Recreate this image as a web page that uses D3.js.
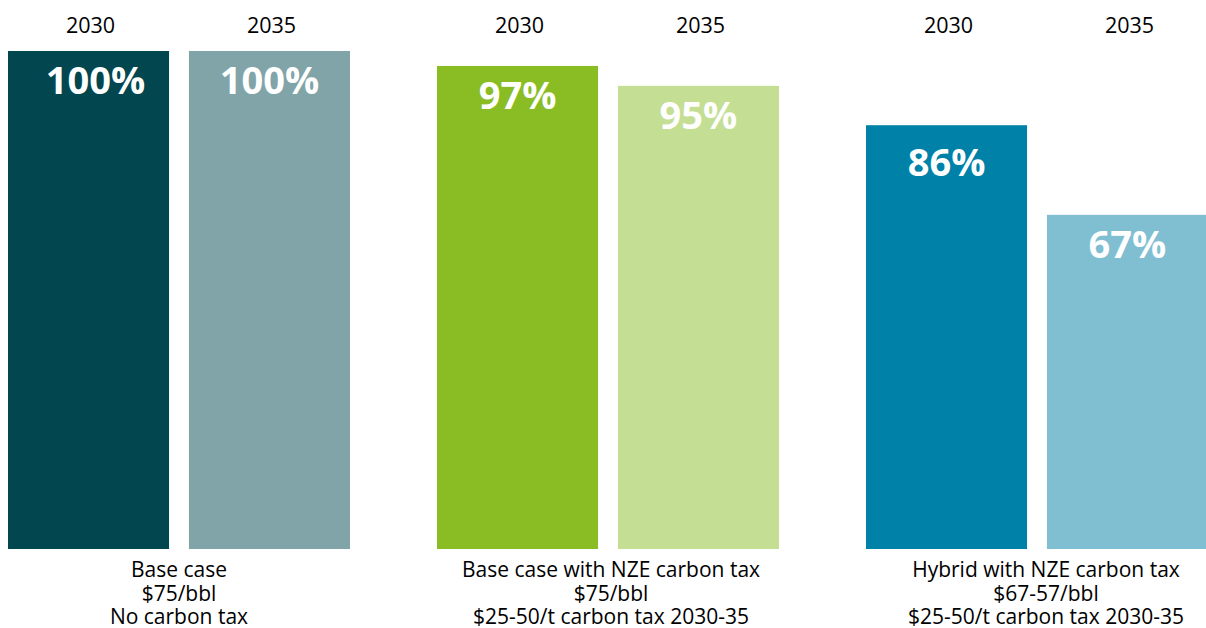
<!DOCTYPE html>
<html>
<head>
<meta charset="utf-8">
<script src="https://cdn.jsdelivr.net/npm/d3@7"></script>
<style>
  body { margin: 0; background: #fff; }
  svg { display: block; font-family: "Open Sans", sans-serif; }
</style>
</head>
<body>
<svg id="chart" width="1206" height="628"></svg>
<script>
// scenarios, each with a 2030 and a 2035 bar
const scenarios = ["base", "baseNze", "hybrid"];
const scenarioLabels = [
  ["Base case", "$75/bbl", "No carbon tax"],
  ["Base case with NZE carbon tax", "$75/bbl", "$25-50/t carbon tax 2030-35"],
  ["Hybrid with NZE carbon tax", "$67-57/bbl", "$25-50/t carbon tax 2030-35"]
];
const years = ["2030", "2035"];
// bar heights (share of base)
const values2030 = [100, 97, 85.1];
const values2035 = [100, 93, 67.1];
// printed labels
const labels2030 = ["100%", "97%", "86%"];
const labels2035 = ["100%", "95%", "67%"];
const colours2030 = ["#02464f", "#8abd24", "#0081a8"];
const colours2035 = ["#80a4a8", "#c4de94", "#80bed2"];

const svg = d3.select("#chart");

const bars = scenarios.flatMap((s, i) => [
  { scenario: s, idx: i, year: years[0], value: values2030[i], label: labels2030[i], colour: colours2030[i] },
  { scenario: s, idx: i, year: years[1], value: values2035[i], label: labels2035[i], colour: colours2035[i] }
]);

const x0 = d3.scaleBand()
  .domain(scenarios)
  .range([8, 1208])
  .paddingInner(87 / 429)
  .paddingOuter(0);

const x1 = d3.scaleBand()
  .domain(years)
  .range([0, x0.bandwidth()])
  .paddingInner(0.11);

const y = d3.scaleLinear()
  .domain([0, 100])
  .range([549, 51]);

const groups = svg.selectAll("g.group")
  .data(scenarios)
  .join("g")
  .attr("class", "group")
  .attr("transform", d => `translate(${x0(d)},0)`);

const bar = groups.selectAll("g.bar")
  .data(s => bars.filter(b => b.scenario === s))
  .join("g")
  .attr("class", "bar");

bar.append("rect")
  .attr("x", d => x1(d.year))
  .attr("y", d => y(d.value))
  .attr("width", x1.bandwidth())
  .attr("height", d => y(0) - y(d.value))
  .attr("fill", d => d.colour);

// value labels sit just inside the top of each bar
bar.append("text")
  .attr("x", d => x1(d.year) + x1.bandwidth() / 2 + (d.idx === 0 && d.year === "2030" ? 7 : 0))
  .attr("y", d => y(d.value) + 43 + (d.idx === 2 && d.year === "2030" ? 8 : 0))
  .attr("text-anchor", "middle")
  .attr("fill", "#fff")
  .attr("font-size", 38)
  .attr("font-weight", 700)
  .text(d => d.label);

bar.append("text")
  .attr("x", d => x1(d.year) + x1.bandwidth() / 2 + 2)
  .attr("y", 33)
  .attr("text-anchor", "middle")
  .attr("fill", "#000")
  .attr("font-size", 21.5)
  .text(d => d.year);

const labelShift = [0, 3, 9];

groups.each(function (s, gi) {
  d3.select(this).append("text")
    .attr("text-anchor", "middle")
    .attr("fill", "#000")
    .attr("font-size", 21)
    .selectAll("tspan")
    .data(scenarioLabels[gi])
    .join("tspan")
    .attr("x", x0.bandwidth() / 2 + labelShift[gi])
    .attr("y", (d, i) => 577 + i * 23.5)
    .text(d => d);
});
</script>
</body>
</html>
